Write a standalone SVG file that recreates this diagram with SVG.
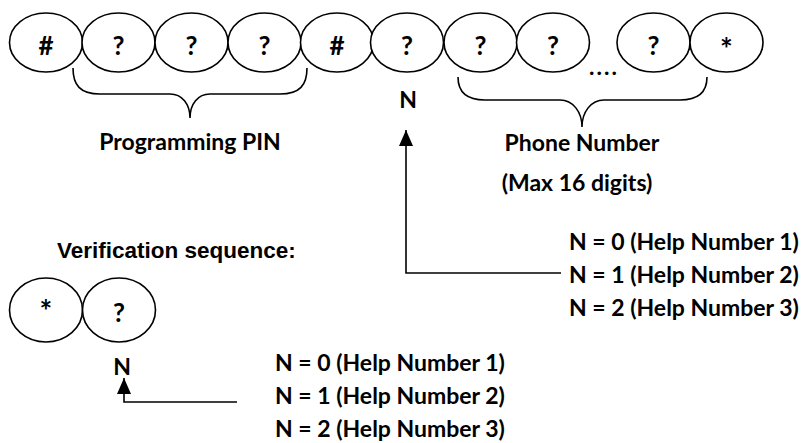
<svg xmlns="http://www.w3.org/2000/svg" width="803" height="443" viewBox="0 0 803 443">
<style>
.e{fill:#fff;stroke:#000;stroke-width:1.6}
.t{font-family:Lato,"Open Sans",sans-serif;font-weight:bold;font-size:23px;fill:#000}
.s{font-size:26px}
.st{font-size:30px}
.c{text-anchor:middle}
.a{font-family:"Liberation Sans",Arial,sans-serif;font-weight:bold;font-size:22.5px;fill:#000}
.l{fill:none;stroke:#000;stroke-width:1.6}
</style>
<defs>
<marker id="ah" viewBox="0 0 16 14" refX="16" refY="7" markerWidth="16" markerHeight="14" markerUnits="userSpaceOnUse" orient="auto">
<path d="M0,0 L16,7 L0,14 z" fill="#000"/>
</marker>
</defs>
<rect width="803" height="443" fill="#fff"/>
<g id="seq">
<g id="n1"><ellipse class="e" cx="46" cy="42.5" rx="36.5" ry="29.5"/><text class="t s c" x="46" y="55">#</text></g>
<g id="n2"><ellipse class="e" cx="118.5" cy="42.5" rx="36.5" ry="29.5"/><text class="t s c" x="118.5" y="55">?</text></g>
<g id="n3"><ellipse class="e" cx="191.5" cy="42.5" rx="36.5" ry="29.5"/><text class="t s c" x="191.5" y="55">?</text></g>
<g id="n4"><ellipse class="e" cx="264.5" cy="42.5" rx="36.5" ry="29.5"/><text class="t s c" x="264.5" y="55">?</text></g>
<g id="n5"><ellipse class="e" cx="337" cy="42.5" rx="36.5" ry="29.5"/><text class="t s c" x="337" y="55">#</text></g>
<g id="n6"><ellipse class="e" cx="407" cy="42.5" rx="36.5" ry="29.5"/><text class="t s c" x="407" y="55">?</text></g>
<g id="n7"><ellipse class="e" cx="480.5" cy="42.5" rx="36.5" ry="29.5"/><text class="t s c" x="480.5" y="55">?</text></g>
<g id="n8"><ellipse class="e" cx="553" cy="42.5" rx="36.5" ry="29.5"/><text class="t s c" x="553" y="55">?</text></g>
<g id="n9"><ellipse class="e" cx="653.5" cy="42.5" rx="36.5" ry="29.5"/><text class="t s c" x="653.5" y="55">?</text></g>
<g id="n10"><ellipse class="e" cx="726.5" cy="42.5" rx="36.5" ry="29.5"/><text class="t st c" x="726.5" y="60">*</text></g>
<text class="t" x="589" y="75" font-size="16" letter-spacing="2">....</text>
</g>
<g id="verify">
<g id="v1"><ellipse class="e" cx="46" cy="310" rx="36.5" ry="32"/><text class="t st c" x="46" y="322">*</text></g>
<g id="v2"><ellipse class="e" cx="119" cy="310" rx="36.5" ry="32"/><text class="t s c" x="119" y="322">?</text></g>
</g>
<g id="connectors">
<path class="l" d="M73,68 C73,85 80,94 100,94 L170,94 C182,94 190,104 190,118 C190,104 198,94 210,94 L280,94 C300,94 307,85 307,68"/>
<path class="l" d="M458,77 C458,92 466,100 485,100 L560,100 C573,100 582,112 582,127 C582,112 591,100 604,100 L680,100 C699,100 707,92 707,77"/>
<path class="l" d="M561,273 L406,273 L406,130" marker-end="url(#ah)"/>
<path class="l" d="M237,402 L124,402 L124,378" marker-end="url(#ah)"/>
</g>
<g id="labels">
<text class="t c" x="190" y="150">Programming PIN</text>
<text class="t c" x="582" y="151">Phone Number</text>
<text class="t c" x="577" y="191">(Max 16 digits)</text>
<text class="t c" x="408" y="108">N</text>
<text class="t" x="569" y="250">N = 0 (Help Number 1)</text>
<text class="t" x="569" y="283">N = 1 (Help Number 2)</text>
<text class="t" x="569" y="316">N = 2 (Help Number 3)</text>
<text class="a" x="57" y="258">Verification sequence:</text>
<text class="t c" x="122" y="375">N</text>
<text class="t" x="275" y="371">N = 0 (Help Number 1)</text>
<text class="t" x="275" y="404">N = 1 (Help Number 2)</text>
<text class="t" x="275" y="437">N = 2 (Help Number 3)</text>
</g>
</svg>
